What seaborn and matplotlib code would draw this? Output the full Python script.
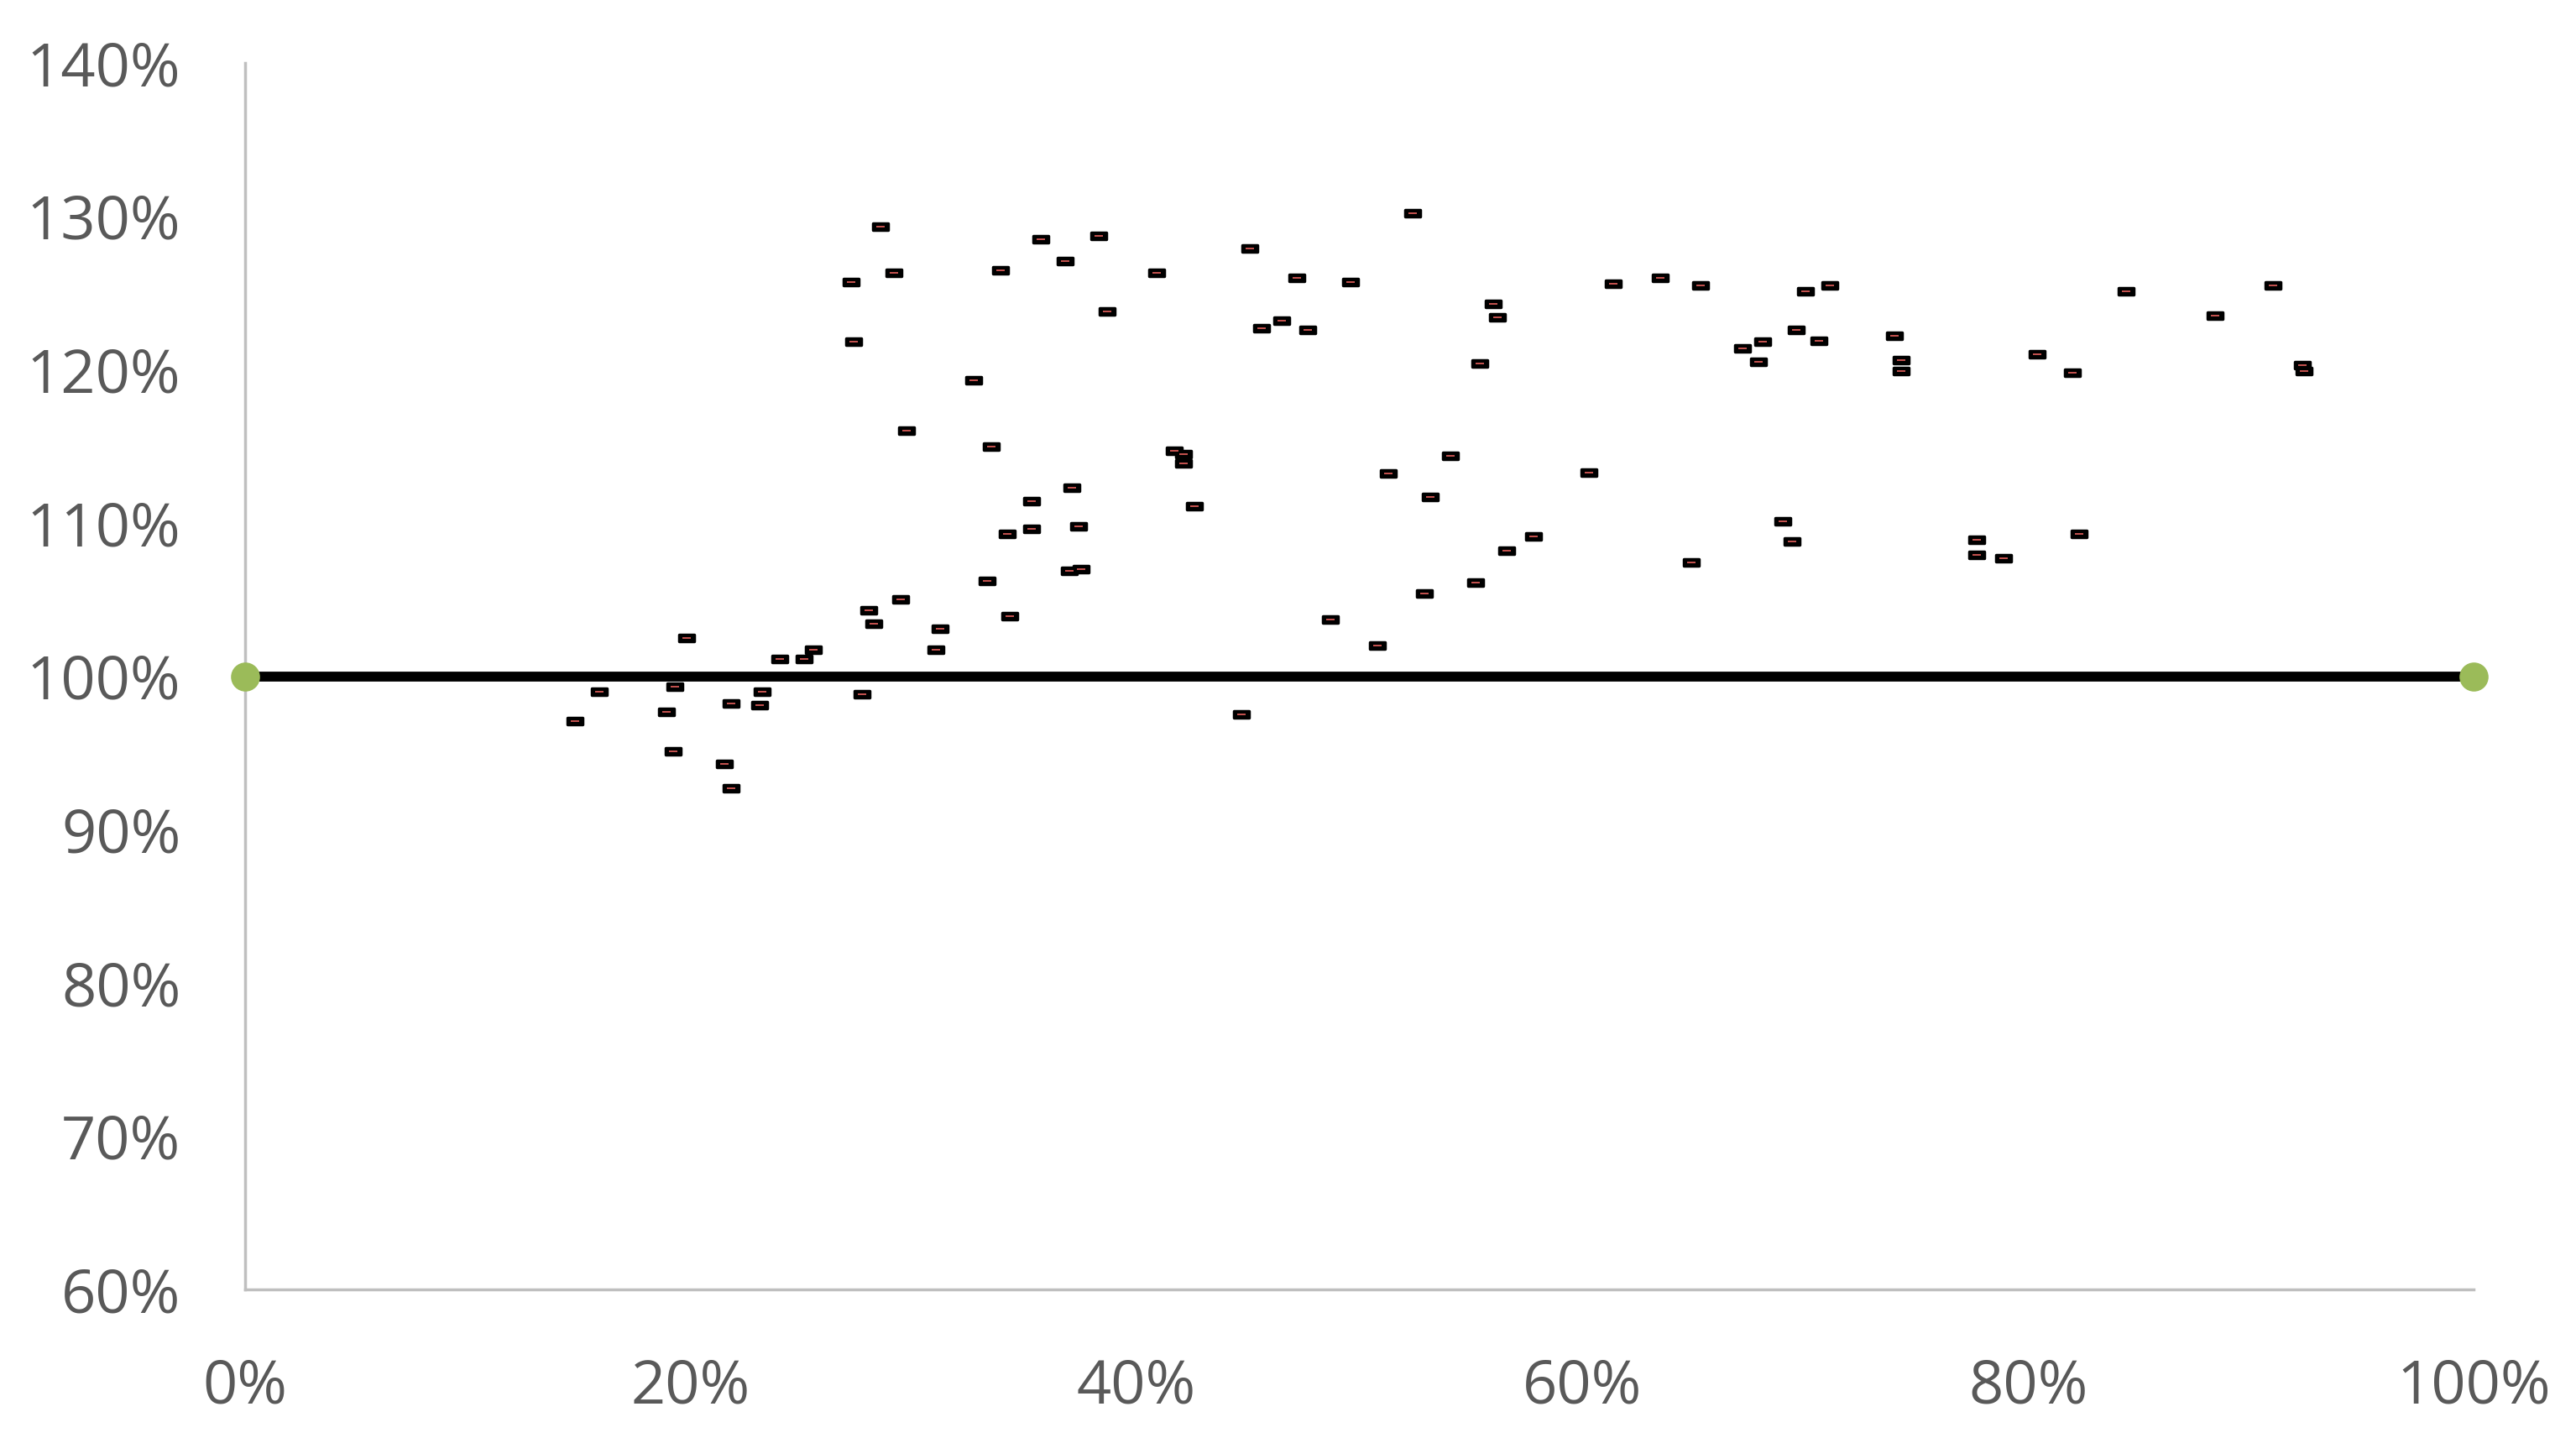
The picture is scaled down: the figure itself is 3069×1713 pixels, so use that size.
import numpy as np
import pandas as pd
import matplotlib
matplotlib.use("Agg")
import matplotlib.pyplot as plt
from matplotlib.path import Path
import seaborn as sns

# ---- data (percent) ----
x_vals = [14.8, 15.9, 18.9, 19.2, 19.3, 19.8, 21.8, 21.5, 21.8, 23.2, 23.1, 24.0, 25.1, 25.5,
          27.2, 27.3, 27.7, 28.0, 28.2, 28.5, 29.1, 29.4, 29.7, 31.0, 31.2, 32.7, 33.3, 33.5,
          33.9, 34.2, 34.3, 35.3, 35.3, 35.7, 36.8, 37.1, 37.0, 37.4, 37.5, 38.3, 38.7, 40.9,
          41.7, 42.1, 42.1, 42.6, 44.7, 45.1, 45.6, 46.5, 47.2, 47.7, 48.7, 49.6, 50.8, 51.3,
          52.4, 52.9, 53.2, 54.1, 55.2, 55.4, 56.0, 56.2, 56.6, 57.8, 60.3, 61.4, 63.5, 64.9,
          65.3, 67.2, 68.1, 67.9, 69.0, 69.4, 69.6, 70.0, 70.6, 71.1, 74.0, 74.3, 74.3, 77.7,
          77.7, 78.9, 80.4, 82.0, 82.3, 84.4, 88.4, 91.0, 92.3, 92.4]
y_vals = [97.1, 99.0, 97.7, 95.1, 99.3, 102.5, 98.2, 94.3, 92.7, 99.0, 98.1, 101.1, 101.1, 101.7,
          125.7, 121.8, 98.8, 104.3, 103.4, 129.3, 126.3, 105.0, 116.0, 101.7, 103.1, 119.3, 106.2, 115.0,
          126.5, 109.3, 103.9, 111.4, 109.6, 128.5, 127.1, 112.3, 106.9, 109.8, 107.0, 128.7, 123.8, 126.3,
          114.7, 114.5, 113.9, 111.1, 97.5, 127.9, 122.7, 123.2, 126.0, 122.6, 103.7, 125.7, 102.0, 113.2,
          130.2, 105.4, 111.7, 114.4, 106.1, 120.4, 124.3, 123.4, 108.2, 109.1, 113.3, 125.6, 126.0, 107.4,
          125.5, 121.4, 121.8, 120.5, 110.1, 108.8, 122.6, 125.1, 121.9, 125.5, 122.2, 120.6, 119.9, 108.9,
          107.9, 107.7, 121.0, 119.8, 109.3, 125.1, 123.5, 125.5, 120.3, 119.9]
ref_x = [0, 100]
ref_y = [100, 100]
x_ticks = [0, 20, 40, 60, 80, 100]
y_ticks = [60, 70, 80, 90, 100, 110, 120, 130, 140]

df = pd.DataFrame({"x": x_vals, "y": y_vals})
ref = pd.DataFrame({"x": ref_x, "y": ref_y})

sns.set_style("white")
plt.rcParams['font.family'] = ['Open Sans', 'DejaVu Sans']

fig = plt.figure(figsize=(30.69, 17.13), dpi=100)
ax = fig.add_axes([0.0951, 0.1033, 0.8652, 0.8529])

# reference line
sns.lineplot(data=ref, x="x", y="y", ax=ax, color="black", linewidth=8.5, zorder=2)
sns.scatterplot(data=ref, x="x", y="y", ax=ax, color="#9BBB59", s=620, linewidth=0,
                zorder=4, clip_on=False)

# data markers: black rounded rectangle with red dash
rect = Path([(-1, -0.5), (1, -0.5), (1, 0.5), (-1, 0.5), (-1, -0.5)],
            [Path.MOVETO, Path.LINETO, Path.LINETO, Path.LINETO, Path.CLOSEPOLY])
dash = Path([(-1, -0.28), (1, -0.28), (1, 0.28), (-1, 0.28), (-1, -0.28)],
            [Path.MOVETO, Path.LINETO, Path.LINETO, Path.LINETO, Path.CLOSEPOLY])
pts = sns.scatterplot(data=df, x="x", y="y", ax=ax, marker=rect, s=150, color="black",
                      edgecolor="black", linewidth=2.5, zorder=5)
ax.collections[-1].set_joinstyle("round")
sns.scatterplot(data=df, x="x", y="y", ax=ax, marker=dash, s=50, color="#C0504D",
                linewidth=0, zorder=6)

ax.set_xlim(0, 100)
ax.set_ylim(60, 140)
ax.set_xticks(x_ticks)
ax.set_yticks(y_ticks)
ax.set_xticklabels([f"{v}%" for v in x_ticks])
ax.set_yticklabels([f"{v}%" for v in y_ticks])
ax.set_xlabel("")
ax.set_ylabel("")
ax.tick_params(axis="both", length=0, labelsize=52, colors="#595959")
ax.tick_params(axis="y", pad=55)
ax.tick_params(axis="x", pad=58)
for s in ["top", "right"]:
    ax.spines[s].set_visible(False)
for s in ["left", "bottom"]:
    ax.spines[s].set_color("#BFBFBF")
    ax.spines[s].set_linewidth(2.5)
ax.grid(False)

fig.savefig("out.png", dpi=100, facecolor="white")
